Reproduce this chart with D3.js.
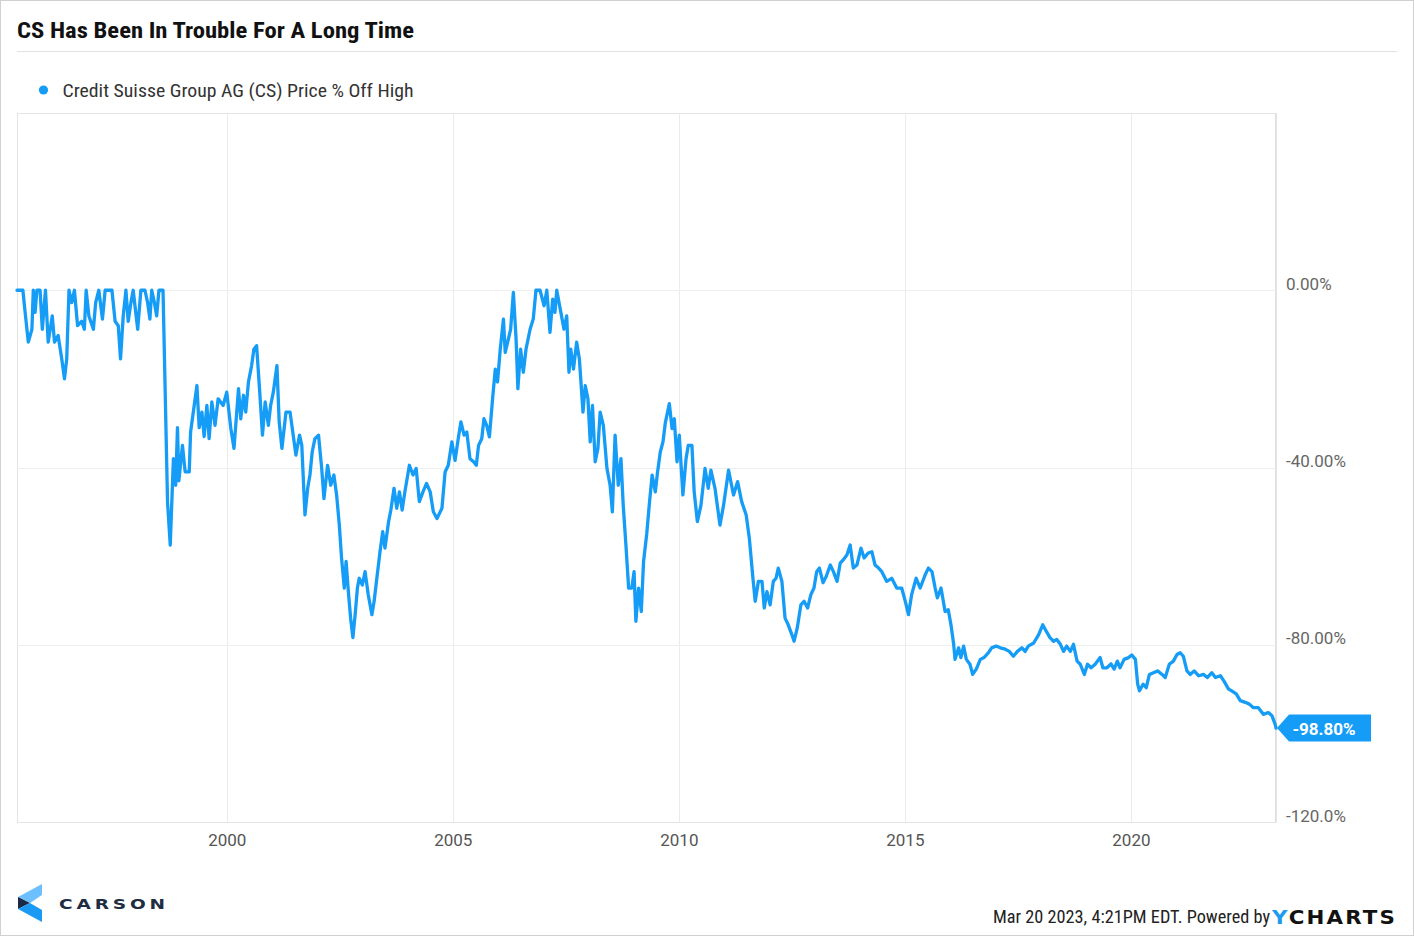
<!DOCTYPE html>
<html><head><meta charset="utf-8">
<script src="https://cdn.jsdelivr.net/npm/d3@7"></script>
<style>body{margin:0;background:#fff} svg{display:block}</style>
</head><body><svg id="c" width="1414" height="936"></svg>
<script>
const title = "CS Has Been In Trouble For A Long Time";
const seriesName = "Credit Suisse Group AG (CS) Price % Off High";
const footerText = "Mar 20 2023, 4:21PM EDT. Powered by";
const lastLabel = "-98.80%";
const xTicks = [2000, 2005, 2010, 2015, 2020];
const yTicks = [0, -40, -80, -120];
const yTickLabels = ["0.00%", "-40.00%", "-80.00%", "-120.0%"];

const years = [
1995.36,1995.49,1995.54,1995.61,1995.69,1995.72,1995.76,1995.80,1995.87,1995.92,
1995.99,1996.05,1996.14,1996.19,1996.27,1996.35,1996.41,1996.46,1996.51,1996.57,
1996.63,1996.70,1996.79,1996.85,1996.89,1996.95,1997.05,1997.10,1997.17,1997.25,
1997.31,1997.38,1997.46,1997.53,1997.60,1997.65,1997.71,1997.77,1997.82,1997.88,
1997.93,1998.03,1998.10,1998.19,1998.25,1998.30,1998.34,1998.40,1998.45,1998.50,
1998.59,1998.69,1998.75,1998.82,1998.87,1998.91,1998.94,1999.02,1999.08,1999.17,
1999.20,1999.34,1999.39,1999.45,1999.50,1999.56,1999.61,1999.67,1999.74,1999.81,
1999.92,2000.00,2000.09,2000.16,2000.26,2000.31,2000.37,2000.42,2000.48,2000.55,
2000.60,2000.66,2000.72,2000.79,2000.85,2000.92,2000.97,2001.03,2001.11,2001.16,
2001.22,2001.31,2001.40,2001.47,2001.53,2001.61,2001.66,2001.73,2001.79,2001.84,
2001.89,2001.95,2002.03,2002.10,2002.15,2002.23,2002.30,2002.37,2002.43,2002.49,
2002.54,2002.60,2002.64,2002.69,2002.74,2002.79,2002.84,2002.89,2002.93,2003.00,
2003.06,2003.13,2003.21,2003.26,2003.32,2003.39,2003.45,2003.50,2003.58,2003.63,
2003.70,2003.76,2003.82,2003.88,2003.94,2004.04,2004.12,2004.19,2004.26,2004.34,
2004.42,2004.50,2004.57,2004.65,2004.76,2004.83,2004.90,2004.98,2005.05,2005.12,
2005.18,2005.25,2005.31,2005.38,2005.46,2005.52,2005.57,2005.64,2005.69,2005.75,
2005.81,2005.88,2005.94,2005.99,2006.05,2006.12,2006.16,2006.23,2006.28,2006.34,
2006.40,2006.44,2006.50,2006.56,2006.62,2006.71,2006.78,2006.84,2006.93,2007.02,
2007.08,2007.15,2007.21,2007.26,2007.30,2007.39,2007.46,2007.52,2007.57,2007.61,
2007.67,2007.74,2007.80,2007.88,2007.93,2007.99,2008.04,2008.09,2008.15,2008.21,
2008.26,2008.33,2008.41,2008.48,2008.53,2008.59,2008.66,2008.72,2008.77,2008.83,
2008.89,2008.96,2009.01,2009.05,2009.11,2009.17,2009.22,2009.29,2009.35,2009.41,
2009.48,2009.53,2009.59,2009.65,2009.70,2009.79,2009.85,2009.90,2009.96,2010.01,
2010.09,2010.16,2010.21,2010.29,2010.34,2010.41,2010.49,2010.58,2010.65,2010.71,
2010.80,2010.91,2010.99,2011.10,2011.21,2011.30,2011.39,2011.49,2011.56,2011.64,
2011.69,2011.76,2011.84,2011.89,2011.95,2012.02,2012.09,2012.15,2012.20,2012.28,
2012.35,2012.42,2012.50,2012.55,2012.62,2012.70,2012.77,2012.85,2012.92,2012.99,
2013.05,2013.11,2013.19,2013.26,2013.35,2013.42,2013.50,2013.57,2013.64,2013.72,
2013.79,2013.86,2013.94,2014.03,2014.10,2014.19,2014.27,2014.34,2014.42,2014.49,
2014.60,2014.71,2014.82,2014.93,2015.01,2015.08,2015.15,2015.25,2015.34,2015.45,
2015.52,2015.60,2015.67,2015.72,2015.80,2015.89,2015.96,2016.02,2016.08,2016.11,
2016.19,2016.24,2016.30,2016.36,2016.44,2016.50,2016.58,2016.67,2016.75,2016.85,
2016.92,2017.02,2017.11,2017.22,2017.31,2017.40,2017.49,2017.59,2017.66,2017.73,
2017.85,2017.96,2018.05,2018.13,2018.21,2018.29,2018.36,2018.44,2018.51,2018.58,
2018.66,2018.73,2018.81,2018.88,2018.97,2019.04,2019.12,2019.21,2019.32,2019.38,
2019.47,2019.56,2019.63,2019.70,2019.76,2019.85,2019.95,2020.02,2020.10,2020.15,
2020.19,2020.27,2020.34,2020.41,2020.50,2020.59,2020.69,2020.76,2020.85,2020.94,
2021.02,2021.09,2021.16,2021.24,2021.31,2021.40,2021.50,2021.61,2021.69,2021.79,
2021.87,2021.98,2022.06,2022.16,2022.23,2022.33,2022.42,2022.53,2022.62,2022.71,
2022.82,2022.93,2023.04,2023.12,2023.19,2023.21
];

const pctOffHigh = [
0,0,-5,-11.7,-8.8,0,-5,0,0,-8.8,
0,-11.7,-5.8,-11.7,-10.2,-15.5,-20,-15.5,0,-2.8,
0,-8,-7,-8.8,0,-5.8,-8.8,-2.8,0,-6.5,
0,0,0,-7,-8,-15.5,-5.8,0,-7,-2.8,
0,-8.8,0,0,-2.8,-6.5,0,-2.8,-5.8,0,
0,-47.8,-57.5,-38,-44,-31,-43,-35,-41,-41,
-32,-21.5,-31,-27.5,-33,-26,-33.5,-25.2,-30.5,-24.5,
-26,-23,-31.2,-35.7,-22.2,-29,-23.7,-27.5,-20.7,-17,
-13.3,-12.5,-21.5,-32.7,-25.2,-30.5,-26,-23,-17,-29.7,
-35.7,-27.5,-27.5,-32.7,-37.2,-32.7,-35,-50.7,-44.7,-41.7,
-36.5,-33.5,-32.7,-40.2,-47,-39.5,-44,-41.7,-46.2,-53,
-60.5,-67.2,-61.2,-68,-74,-78.4,-73.2,-67.2,-65,-66.5,
-63.5,-68.7,-73.2,-70.2,-65,-59,-54.5,-58.2,-52.2,-49.6,
-44.7,-49.2,-45.5,-49.6,-45.5,-39.5,-41.7,-40.2,-47.7,-45.5,
-43.6,-45.5,-50,-51.5,-49.2,-41,-39.5,-34.2,-38.4,-33.5,
-29.7,-32.7,-32,-38,-38.7,-39.5,-35,-33.5,-29,-30.5,
-33.1,-24.5,-17.8,-20.7,-13.3,-6.5,-14,-11,-8.8,-0.5,
-11,-22.2,-13.3,-18.5,-13.3,-8.8,-6.5,0,0,-3.5,
0,-9.5,-2,-5,0,-5,-8.8,-5.8,-18.5,-13.3,
-17.8,-11.7,-15.5,-27.5,-21.5,-24.5,-34.2,-26,-38.7,-35.7,
-27.5,-30.5,-40.2,-44,-50,-32.7,-44,-38,-48.5,-57.5,
-67.2,-67.2,-63.5,-74.7,-67.2,-72.5,-61.2,-55,-48,-41.7,
-45.5,-41,-36.5,-34.2,-30,-25.6,-31.2,-29,-38.7,-32.7,
-46.2,-38,-35,-35,-45.5,-52.2,-48.5,-40.2,-44.7,-40.6,
-44.7,-53,-48.5,-40.6,-46.2,-43.2,-47.7,-50.7,-56,-65,
-70.2,-65.7,-65.7,-71.7,-68,-71,-65.7,-65,-62.7,-65.7,
-74,-75.5,-77.7,-79.2,-76.2,-71,-70.2,-71.7,-68.7,-67.2,
-63.5,-62.7,-66,-64.6,-62,-63.5,-65.7,-61.6,-60.8,-59.7,
-57.5,-62.7,-62,-58.2,-60.4,-59.3,-59,-62,-62.7,-63.5,
-65.7,-65,-67.2,-67.2,-70.2,-73.2,-68.7,-65,-67.2,-64.2,
-62.7,-63.5,-67.2,-69.4,-67.2,-72.5,-72.1,-75.5,-79.9,-83.3,
-80.7,-82.9,-80.3,-83.3,-84.4,-86.7,-85.5,-83.3,-82.9,-81.8,
-80.7,-80.3,-80.7,-81,-81.5,-82.6,-81.5,-80.7,-81.5,-80.3,
-79.6,-77.7,-75.5,-77,-78.4,-79.2,-78.8,-79.9,-81.5,-80.3,
-81.5,-79.9,-83.7,-84.4,-86.7,-84.4,-85.2,-84.4,-82.9,-85.2,
-85.2,-84.3,-85.5,-83.7,-85.2,-83.3,-82.9,-82.3,-83.3,-88.9,
-90.4,-88.9,-89.7,-86.7,-86.3,-85.9,-86.7,-87.4,-84.4,-83.7,
-82.2,-81.8,-82.6,-85.9,-86.7,-85.9,-87,-86.7,-87.4,-86.3,
-87.4,-87,-88.2,-90,-90.4,-91.1,-92.6,-93,-93.4,-94.2,
-94.2,-95.7,-95.3,-96,-97.9,-98.8
];

const data = years.map((yr, i) => ({year: yr, value: pctOffHigh[i]}));

const svg = d3.select("#c");
const W = 1414, H = 936;
const L = 17, R = 1276, T = 113, B = 822;
const blue = "#159cf6";

svg.append("rect").attr("x",0.5).attr("y",0.5).attr("width",W-1).attr("height",H-1)
  .attr("fill","#fff").attr("stroke","#d0d0d0");

// Title
svg.append("text").attr("x",17).attr("y",38)
  .attr("font-family","'Roboto Condensed', Roboto, sans-serif").attr("font-weight",700)
  .attr("font-size",22).attr("fill","#111")
  .attr("textLength",397).attr("lengthAdjust","spacingAndGlyphs").text(title);
svg.append("line").attr("x1",17).attr("x2",1397).attr("y1",51.5).attr("y2",51.5)
  .attr("stroke","#e2e2e2");

// Legend
svg.append("circle").attr("cx",43.5).attr("cy",90).attr("r",4.6).attr("fill",blue);
svg.append("text").attr("x",62.5).attr("y",96.5)
  .attr("font-family","'Roboto Condensed', Roboto, sans-serif").attr("font-size",19)
  .attr("fill","#333").attr("textLength",351).attr("lengthAdjust","spacingAndGlyphs")
  .text(seriesName);

const x = d3.scaleLinear().domain([d3.min(years), d3.max(years)]).range([L, R]);
const y = d3.scaleLinear().domain([-120, 40]).range([B, T]);

// plot frame
svg.append("rect").attr("x",L+0.5).attr("y",T+0.5).attr("width",R-L-1).attr("height",B-T)
  .attr("fill","none").attr("stroke","#e4e4e4");
svg.append("line").attr("x1",R).attr("x2",R).attr("y1",T).attr("y2",B+0.5)
  .attr("stroke","#dcdcdc").attr("stroke-width",1.5);

// grid
svg.append("g").selectAll("line").data(xTicks).join("line")
  .attr("x1",d=>Math.round(x(d))+0.5).attr("x2",d=>Math.round(x(d))+0.5)
  .attr("y1",T).attr("y2",B).attr("stroke","#ebebeb");
svg.append("g").selectAll("line").data(yTicks.filter(d=>d>-120)).join("line")
  .attr("x1",L).attr("x2",R).attr("y1",d=>Math.round(y(d))+0.5).attr("y2",d=>Math.round(y(d))+0.5)
  .attr("stroke","#eeeeee");

// axes
const xAxis = svg.append("g").attr("transform",`translate(0,${B})`)
  .call(d3.axisBottom(x).tickValues(xTicks).tickFormat(d3.format("d")).tickSize(0).tickPadding(12));
xAxis.select(".domain").remove();
xAxis.selectAll("text").attr("font-family","Roboto, sans-serif").attr("font-size",17).attr("fill","#555");

const yAxis = svg.append("g").attr("transform",`translate(${R},0)`)
  .call(d3.axisRight(y).tickValues(yTicks).tickFormat((d,i)=>yTickLabels[i]).tickSize(0).tickPadding(10));
yAxis.select(".domain").remove();
yAxis.selectAll("text").attr("font-family","Roboto, sans-serif").attr("font-size",17)
  .attr("fill","#666").attr("dy","-0.05em");

// line
const line = d3.line().x(d=>x(d.year)).y(d=>y(d.value));
svg.append("path").datum(data).attr("d",line).attr("fill","none")
  .attr("stroke",blue).attr("stroke-width",3.3).attr("stroke-linejoin","round").attr("stroke-linecap","round");

// end flag
const last = data[data.length-1];
const ly = y(last.value), lx = x(last.year);
svg.append("path")
  .attr("d",`M${lx+1},${ly} L${lx+13},${ly-13.5} L${lx+95},${ly-13.5} L${lx+95},${ly+13.5} L${lx+13},${ly+13.5} Z`)
  .attr("fill",blue);
svg.append("text").attr("x",lx+48).attr("y",ly+6.5).attr("text-anchor","middle")
  .attr("font-family","Roboto, sans-serif").attr("font-weight",700).attr("font-size",17)
  .attr("fill","#fff").text(lastLabel);

// Carson logo
const lg = svg.append("g");
lg.append("polygon").attr("points","18,897 42,884 42,895 30,903").attr("fill","#6cc0ff");
lg.append("polygon").attr("points","18,897 30,903 18,909").attr("fill","#1b2a44");
lg.append("polygon").attr("points","18,909 30,903 42,910 42,922").attr("fill","#1a9af5");
svg.append("text").attr("x",59).attr("y",908.5)
  .attr("font-family","'DejaVu Sans', Lato, sans-serif").attr("font-weight",700)
  .attr("font-size",14.5).attr("fill","#1e2d42").attr("letter-spacing",3)
  .attr("textLength",110).attr("lengthAdjust","spacingAndGlyphs").text("CARSON");

// footer
svg.append("text").attr("x",993).attr("y",923)
  .attr("font-family","'Roboto Condensed', Roboto, sans-serif").attr("font-size",18)
  .attr("fill","#222").attr("textLength",277).attr("lengthAdjust","spacingAndGlyphs").text(footerText);
const yc = svg.append("text").attr("x",1272).attr("y",923.5)
  .attr("font-family","'DejaVu Sans', Lato, sans-serif").attr("font-weight",700).attr("font-size",20)
  .attr("letter-spacing",2)
  .attr("textLength",125).attr("lengthAdjust","spacingAndGlyphs");
yc.append("tspan").attr("fill","#1e9bf0").text("Y");
yc.append("tspan").attr("fill","#111").text("CHARTS");
</script>
</body></html>
